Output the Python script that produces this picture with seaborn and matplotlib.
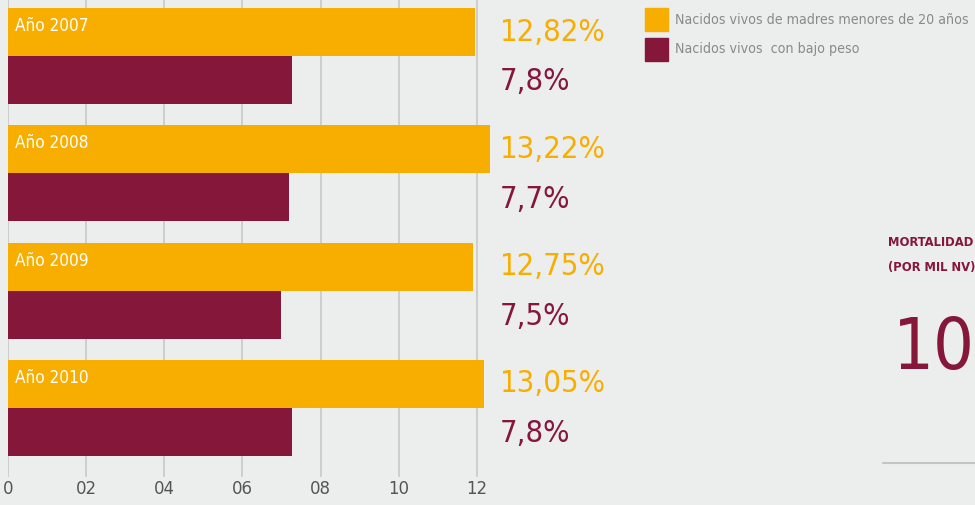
import numpy as np
import pandas as pd
import seaborn as sns
from matplotlib import pyplot as plt
from matplotlib import font_manager as fm

years = ["Año 2007", "Año 2008", "Año 2009", "Año 2010"]
madres_menores = [12.82, 13.22, 12.75, 13.05]
bajo_peso = [7.8, 7.7, 7.5, 7.8]
madres_labels = ["12,82%", "13,22%", "12,75%", "13,05%"]
peso_labels = ["7,8%", "7,7%", "7,5%", "7,8%"]
series = ["Nacidos vivos de madres menores de 20 años", "Nacidos vivos  con bajo peso"]
tick_labels = ["0", "02", "04", "06", "08", "10", "12"]
mortalidad = "10"

orange = "#F7AE00"
maroon = "#85173A"
bg = "#ECEDED"

sns.set_theme(style="white")

# look for the narrowest face available, the original uses a condensed type
order = {"ultra-condensed": 0, "extra-condensed": 1, "condensed": 2, "semi-condensed": 3}
narrow = [f for f in fm.fontManager.ttflist
          if f.stretch in order and f.style == "normal"]
narrow.sort(key=lambda f: order[f.stretch])
if narrow:
    fam = narrow[0].name
    stretch = narrow[0].stretch
else:
    fam = "Roboto"
    stretch = "normal"
plt.rcParams["font.family"] = [fam, "DejaVu Sans"]
plt.rcParams["font.stretch"] = stretch

df = pd.DataFrame({
    "year": years * 2,
    "value": madres_menores + bajo_peso,
    "serie": [series[0]] * 4 + [series[1]] * 4,
})

fig = plt.figure(figsize=(9.75, 5.05), dpi=100, facecolor=bg)
ax = fig.add_axes([8 / 975, 28 / 505, 592 / 975, 477 / 505])
ax.set_facecolor(bg)
rend = fig.canvas.get_renderer()


def fit(t, target):
    # scale the font so the text is as wide as in the original
    w = t.get_window_extent(rend).width
    t.set_fontsize(t.get_fontsize() * target / w)
    return t.get_fontsize()


sns.barplot(data=df, y="year", x="value", hue="serie", orient="h",
            palette=[orange, maroon], width=0.82, saturation=1,
            edgecolor="none", legend=False, ax=ax)

# the axis of the original is drawn a bit short of the real values
scale = 0.933
ax.set_xlim(0, 592 / 36.46)
ax.set_ylim(3.588, -0.478)
ax.set_xticks(np.arange(0, 13, 2) / scale)
probe = fig.text(0, 0, "02", fontsize=10)
tick_fs = fit(probe, 21)
probe.remove()
ax.set_xticklabels(tick_labels, fontsize=tick_fs, color="#555555")
ax.tick_params(axis="x", length=0, pad=2)
ax.set_yticks([])
ax.set_xlabel("")
ax.set_ylabel("")
ax.xaxis.grid(True, color="#C8C8C8", linewidth=1.2)
ax.set_axisbelow(True)
for s in ax.spines.values():
    s.set_visible(False)

lab_x = (500 - 8) / 36.46
year_fs = None
big_fs = None
for i in range(len(years)):
    t1 = ax.text(0.18, i - 0.255, years[i], color="white", fontsize=14,
                 va="center", ha="left")
    t2 = ax.text(lab_x, i - 0.205, madres_labels[i], color=orange, fontsize=24,
                 va="center", ha="left", clip_on=False)
    t3 = ax.text(lab_x, i + 0.22, peso_labels[i], color=maroon, fontsize=24,
                 va="center", ha="left", clip_on=False)
    if year_fs is None:
        year_fs = fit(t1, 74)
        big_fs = fit(t2, 106)
    t1.set_fontsize(year_fs)
    t2.set_fontsize(big_fs)
    t3.set_fontsize(big_fs)

# legend
leg_fs = None
for k, (c, lab) in enumerate(zip([orange, maroon], series)):
    y0 = 1 - (8 + 30 * k) / 505
    fig.patches.append(plt.Rectangle((645 / 975, y0 - 23 / 505), 23 / 975, 23 / 505,
                                     transform=fig.transFigure, color=c))
    t = fig.text(675 / 975, y0 - 11.5 / 505, lab, color="#8A8A8A", fontsize=11,
                 va="center", ha="left")
    if leg_fs is None:
        leg_fs = fit(t, 293)
    t.set_fontsize(leg_fs)

# mortalidad box
m1 = fig.text(888 / 975, 1 - 242 / 505, "MORTALIDAD", color=maroon, fontsize=9,
              fontweight="bold", va="center", ha="left")
m_fs = fit(m1, 86)
fig.text(888 / 975, 1 - 268 / 505, "(POR MIL NV)", color=maroon, fontsize=m_fs,
         fontweight="bold", va="center", ha="left")
m3 = fig.text(893 / 975, 1 - 349 / 505, mortalidad, color=maroon, fontsize=72,
              va="center", ha="left")
fit(m3, 82)
fig.add_artist(plt.Line2D([883 / 975, 1], [1 - 463 / 505] * 2, color="#C4C4C4",
                          linewidth=1.5, transform=fig.transFigure))

fig.savefig("out.png", dpi=100, facecolor=bg)
